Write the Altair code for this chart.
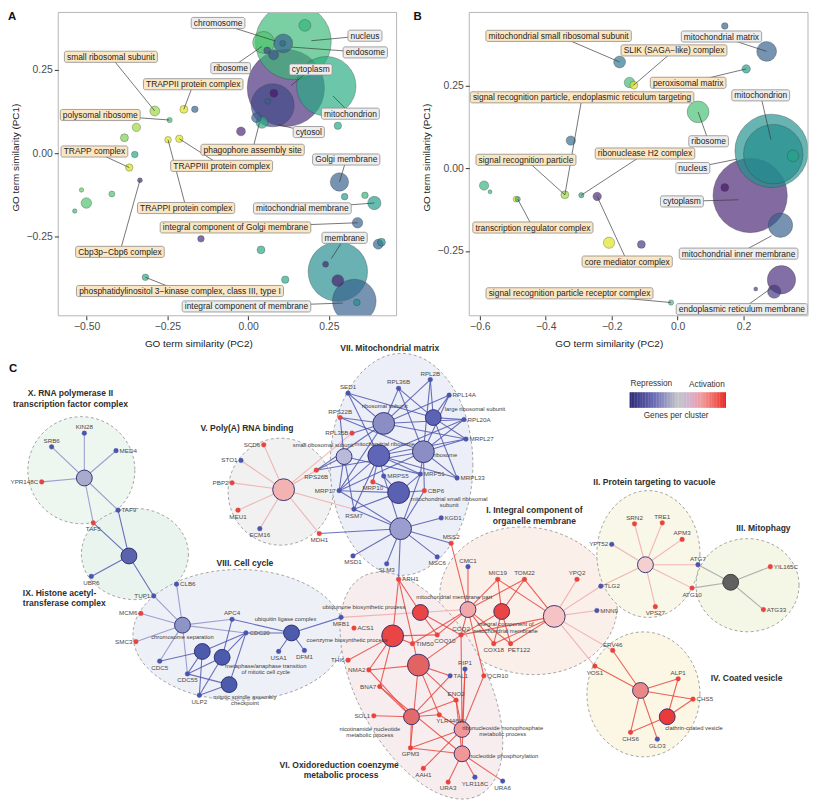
import math
import numpy as np
import pandas as pd
import altair as alt

FONT = "Liberation Sans"

# ---------------- Panel A : GO term bubbles ----------------
a_x = [0.140, 0.117, 0.242, 0.076, 0.080, 0.061, 0.109, 0.079, 0.059, 0.048,
       0.176, 0.107, 0.043, 0.026, -0.022, 0.278, -0.165, -0.199, -0.289, -0.243,
       -0.346, -0.383, -0.351, -0.368, -0.248, -0.213, -0.335, -0.516, -0.422, -0.501,
       -0.537, 0.283, 0.299, 0.362, 0.391, 0.339, -0.146, 0.040, 0.403, 0.413,
       0.278, 0.329, 0.240, 0.278, 0.337, 0.115, -0.318]
a_y = [0.333, 0.195, 0.200, 0.143, 0.179, 0.155, 0.328, 0.294, 0.307, 0.331,
       0.382, 0.328, 0.092, 0.106, 0.065, 0.082, 0.131, 0.131, 0.126, 0.099,
       0.077, 0.046, -0.004, -0.043, 0.040, 0.043, -0.081, -0.110, -0.122, -0.149,
       -0.173, -0.086, -0.130, -0.126, -0.149, -0.208, -0.256, -0.289, -0.272, -0.266,
       -0.354, -0.442, -0.332, -0.381, -0.446, -0.378, -0.371]
a_n = [1467, 1521, 900, 471, 16, 9, 90, 25, 12, 121,
       36, 9, 36, 25, 20, 14, 11, 16, 25, 7,
       18, 16, 11, 14, 11, 14, 6, 5, 9, 28,
       5, 86, 11, 11, 45, 28, 11, 16, 25, 16,
       900, 484, 9, 36, 11, 14, 11]
a_v = [0.68, 0.12, 0.62, 0.22, 0.05, 0.30, 0.30, 0.25, 0.20, 0.72,
       0.65, 0.35, 0.62, 0.30, 0.10, 0.60, 0.30, 0.95, 0.85, 0.70,
       0.85, 0.80, 0.60, 0.93, 0.95, 0.95, 0.12, 0.75, 0.72, 0.72,
       0.68, 0.30, 0.55, 0.65, 0.55, 0.30, 0.12, 0.60, 0.30, 0.45,
       0.48, 0.30, 0.10, 0.08, 0.50, 0.60, 0.62]

a_lab = ["chromosome", "nucleus", "endosome", "small ribosomal subunit", "ribosome",
         "cytoplasm", "TRAPPII protein complex", "polysomal ribosome", "mitochondrion", "cytosol",
         "TRAPP complex", "phagophore assembly site", "TRAPPIII protein complex", "Golgi membrane",
         "TRAPPI protein complex", "mitochondrial membrane", "integral component of Golgi membrane",
         "membrane", "Cbp3p\u2212Cbp6 complex",
         "phosphatidylinositol 3\u2212kinase complex, class III, type I",
         "integral component of membrane"]
a_lx = [-0.093, 0.362, 0.363, -0.425, -0.054, 0.194, -0.170, -0.458, 0.317, 0.188,
        -0.476, 0.014, -0.082, 0.304, -0.192, 0.168, -0.039, 0.299, -0.397, -0.211, -0.005]
a_ly = [0.389, 0.351, 0.301, 0.288, 0.254, 0.250, 0.206, 0.114, 0.118, 0.063,
        0.005, 0.010, -0.038, -0.019, -0.164, -0.165, -0.222, -0.253, -0.295, -0.412, -0.458]
a_tx = [0.085, 0.196, 0.135, -0.289, 0.043, 0.133, -0.199, -0.243, 0.263, 0.094,
        -0.368, 0.035, -0.213, 0.283, -0.248, 0.391, 0.339, 0.258, -0.335, -0.318, 0.293]
a_ty = [0.335, 0.336, 0.317, 0.126, 0.319, 0.202, 0.131, 0.099, 0.171, 0.085,
        -0.043, 0.090, 0.043, -0.086, 0.040, -0.149, -0.208, -0.315, -0.081, -0.371, -0.448]
a_kind = ["cc", "cc", "cc", "sig", "cc", "cc", "sig", "sig", "cc", "cc", "sig",
          "sig", "sig", "cc", "sig", "cc", "sig", "cc", "sig", "sig", "cc"]

# ---------------- Panel B : GO term bubbles ----------------
b_x = [0.143, 0.270, -0.176, 0.208, -0.146, -0.133, 0.062, 0.285, 0.290, 0.350,
       0.220, 0.143, 0.312, -0.324, -0.587, -0.569, -0.490, -0.485, -0.342, -0.292,
       -0.244, -0.208, -0.110, 0.315, 0.293, 0.237, -0.020]
b_y = [0.431, 0.354, 0.322, 0.301, 0.260, 0.252, 0.171, 0.053, 0.043, 0.038,
       -0.082, -0.058, -0.172, 0.084, -0.052, -0.071, -0.093, -0.093, -0.080, -0.081,
       -0.085, -0.225, -0.230, -0.337, -0.373, -0.365, -0.406]
b_n = [11, 100, 36, 18, 28, 16, 121, 1369, 900, 36,
       1406, 16, 151, 22, 22, 4, 9, 7, 16, 7,
       18, 32, 16, 204, 45, 4, 7]
b_v = [0.30, 0.30, 0.38, 0.55, 0.68, 0.95, 0.70, 0.50, 0.48, 0.58,
       0.10, 0.05, 0.30, 0.35, 0.65, 0.65, 0.95, 0.65, 0.85, 0.60,
       0.10, 0.95, 0.15, 0.12, 0.15, 0.15, 0.70]

b_lab = ["mitochondrial small ribosomal subunit", "mitochondrial matrix",
         "SLIK (SAGA\u2212like) complex", "peroxisomal matrix",
         "signal recognition particle, endoplasmic reticulum targeting",
         "mitochondrion", "ribosome", "ribonuclease H2 complex", "signal recognition particle",
         "nucleus", "cytoplasm", "transcription regulator complex", "mitochondrial inner membrane",
         "core mediator complex", "signal recognition particle receptor complex",
         "endoplasmic reticulum membrane"]
b_lx = [-0.361, 0.133, -0.011, 0.032, -0.290, 0.252, 0.094, -0.099, -0.460, 0.046,
        0.013, -0.439, 0.185, -0.153, -0.328, 0.195]
b_ly = [0.401, 0.399, 0.357, 0.259, 0.215, 0.221, 0.082, 0.045, 0.026, 0.001,
        -0.100, -0.179, -0.258, -0.282, -0.378, -0.426]
b_tx = [-0.176, 0.270, -0.133, 0.208, -0.342, 0.283, 0.062, -0.292, -0.342, 0.180,
        0.185, -0.485, 0.285, -0.244, -0.020, 0.285]
b_ty = [0.322, 0.354, 0.252, 0.301, -0.080, 0.087, 0.171, -0.081, -0.080, 0.028,
        -0.095, -0.093, -0.204, -0.085, -0.406, -0.362]
b_kind = ["sig", "cc", "sig", "sig", "sig", "cc", "cc", "sig", "sig", "cc",
          "cc", "sig", "cc", "sig", "sig", "cc"]

# ---------------- Panel C : network ----------------
leaf_name = ["KIN28", "SRB6", "MED4", "YPR148C", "TAF9", "TAF5", "UBP6", "TUP1",
             "CLB6", "MCM6", "SMC3", "APC4", "CDC20", "USA1", "DFM1", "MFB1", "CDC5", "CDC55", "ULP2",
             "SCD6", "STO1", "PBP2", "MEU1", "ECM16", "MDH1", "RPS26B", "RPL35B", "RPS22B",
             "SED1", "RPL36B", "RPL2B", "RPL14A", "RPL20A", "MRPL27", "MRPL33", "MRP51", "MRPS5",
             "MRP10", "MRP17", "CBP6", "RSM7", "KGD1", "MSS2", "MSC6", "MSD1", "SLM3", "ARH1",
             "CMC1", "MIC19", "TOM22", "YPQ2", "TLG2", "MNN9", "COX18", "PET122", "COQ2", "COQ10",
             "TIM50", "QCR10", "RIP1", "ERV46", "YOS1",
             "SRN2", "TRE1", "APM3", "YPT52", "ATG7", "ATG10", "VPS27", "YIL165C", "ATG33",
             "ALP1", "CHS5", "CHS6", "GLO3",
             "ACS1", "THI6", "NMA2", "BNA7", "SOL1", "GPM3", "AAH1", "URA3", "YLR118C", "URA6",
             "YLR446W", "ENO2", "TAL1"]
leaf_x = [85, 52, 117, 42, 119, 94, 92, 155,
          178, 142, 137, 234, 248, 281, 307, 344, 161, 189, 201,
          266, 243, 234, 240, 262, 322, 319, 355, 343,
          351, 402, 434, 453, 468, 470, 461, 424, 387,
          376, 342, 428, 357, 445, 455, 441, 356, 390, 402,
          472, 502, 529, 582, 606, 602, 498, 515, 465, 441,
          416, 488, 469, 618, 600,
          640, 668, 688, 617, 704, 698, 661, 777, 770,
          684, 699, 636, 663,
          357, 351, 372, 383, 377, 414, 427, 452, 479, 507,
          443, 460, 454]
leaf_y = [434, 448, 452, 484, 513, 526, 581, 601,
          589, 619, 648, 625, 639, 658, 657, 623, 668, 681, 703,
          446, 462, 485, 513, 532, 537, 472, 434, 418,
          393, 388, 379, 395, 420, 440, 480, 476, 478,
          484, 493, 493, 512, 521, 547, 561, 560, 568, 584,
          571, 584, 584, 584, 591, 616, 650, 650, 641, 641,
          650, 683, 676, 657, 673,
          527, 526, 543, 548, 569, 593, 612, 571, 615,
          686, 707, 741, 748,
          634, 667, 677, 694, 724, 757, 778, 792, 787, 791,
          723, 708, 683]
leaf_reg = ["d", "d", "d", "u", "d", "u", "d", "d",
            "d", "u", "u", "d", "d", "d", "d", "d", "d", "d", "d",
            "u", "d", "u", "u", "d", "u", "u", "u", "u",
            "d", "d", "d", "d", "d", "d", "d", "d", "d",
            "u", "d", "u", "d", "d", "u", "d", "d", "d", "u",
            "d", "u", "u", "u", "d", "d", "u", "u", "u", "u",
            "u", "u", "d", "u", "u",
            "u", "u", "u", "d", "d", "u", "u", "u", "u",
            "u", "u", "u", "d",
            "u", "u", "u", "u", "u", "u", "u", "u", "d", "d",
            "u", "u", "d"]
leaf_side = ["t", "t", "r", "l", "r", "b", "b", "l",
             "r", "l", "l", "t", "r", "b", "b", "b", "b", "b", "b",
             "l", "l", "l", "b", "b", "b", "b", "l", "t",
             "t", "t", "t", "r", "r", "r", "r", "r", "r",
             "b", "l", "r", "b", "r", "t", "b", "b", "b", "r",
             "t", "t", "t", "t", "r", "r", "b", "br", "t", "br",
             "r", "r", "t", "t", "b",
             "t", "t", "t", "l", "t", "b", "b", "r", "r",
             "t", "r", "b", "b",
             "r", "l", "l", "l", "l", "b", "b", "b", "b", "b",
             "br", "t", "r"]

hub_name = ["hX", "hIX", "hChrom", "hA8", "hMeta", "hSpin", "hUbiqL", "hV",
            "hRibSub", "hLarge", "hMitoRib", "hRibosome", "hSmall", "hMitoSmall", "hMatrix",
            "hI", "hMMP", "hICMM", "hII", "hIII", "hIV", "hCCV",
            "hUbq", "hCoenz", "hBig", "hNicot", "hRibo", "hNucl"]
hub_x = [85, 130, 184, 204, 224, 231, 294, 286,
         387, 437, 382, 427, 347, 402, 404,
         559, 472, 506, 651, 737, 646, 673,
         424, 396, 422, 415, 466, 466]
hub_y = [480, 560, 631, 658, 664, 692, 639, 492,
         424, 418, 457, 453, 458, 495, 532,
         622, 615, 617, 569, 587, 698, 725,
         618, 642, 672, 725, 738, 763]
hub_r = [8, 8, 8, 8, 8, 8, 8, 11,
         11, 8, 11, 11, 8, 11, 11,
         11, 8, 8, 8, 8, 8, 8,
         8, 11, 11, 8, 8, 8]
hub_fill = ["#a9aacd", "#5b63ad", "#8f94c6", "#4d5bad", "#4d5bad", "#4d5bad", "#4d5bad", "#f3b3b3",
            "#8a8ec4", "#5c62b4", "#5f66b8", "#8a8ec4", "#b9bad9", "#5a61b3", "#9a9dcd",
            "#f5c3c3", "#f2a8a8", "#ea4545", "#f3cfcf", "#606060", "#ea8888", "#ea3b3b",
            "#e94545", "#e94545", "#e36262", "#e36a6a", "#f29797", "#f29797"]

hub_lab = ["chromosome separation", "ubiquitin ligase complex", "metaphase/anaphase transition",
           "of mitotic cell cycle", "mitotic spindle assembly", "checkpoint",
           "small ribosomal subunit", "ribosomal subunit", "large ribosomal subunit",
           "mitochondrial ribosome", "ribosome", "mitochondrial small ribosomal", "subunit",
           "mitochondrial membrane part", "integral component of", "mitochondrial membrane",
           "clathrin-coated vesicle", "ubiquinone biosynthetic process",
           "coenzyme biosynthetic process", "nicotinamide nucleotide", "metabolic process",
           "ribonucleoside monophosphate", "metabolic process", "nucleotide phosphorylation"]
hub_lx = [184, 288, 268, 268, 247, 247, 326, 388, 479, 388, 449, 453, 453,
          458, 510, 510, 700, 367, 350, 373, 373, 507, 507, 508]
hub_ly = [643, 625, 673, 679, 705, 711, 446, 406, 409, 445, 456, 502, 508,
          602, 630, 637, 737, 612, 646, 738, 744, 737, 743, 765]

cl_name = ["X", "IX", "VIII", "V", "VII", "I", "II", "III", "IV", "VI"]
cl_cx = [82, 136, 241, 283, 405, 533, 654, 754, 649, 425]
cl_cy = [472, 558, 641, 494, 466, 606, 558, 590, 702, 693]
cl_rx = [54, 54, 107, 53, 72, 90, 52, 52, 57, 125]
cl_ry = [54, 46, 66, 54, 112, 74, 64, 47, 63, 65]
cl_ang = [0, 0, 0, 0, 0, 10, 0, 0, 0, 62]
cl_fill = ["#eef6f0", "#e9f4ee", "#eef0f8", "#f1f1f1", "#edeff8",
           "#fbefe9", "#f9f7e7", "#f4f6e6", "#fbf7e4", "#f7edef"]

title_txt = ["X. RNA polymerase II", "transcription factor complex", "VIII. Cell cycle",
             "V. Poly(A) RNA binding", "VII. Mitochondrial matrix", "I. Integral component of",
             "organelle membrane", "II. Protein targeting to vacuole", "III. Mitophagy",
             "IV. Coated vesicle", "VI. Oxidoreduction coenzyme", "metabolic process"]
title_x = [71, 71, 247, 249, 393, 539, 539, 660, 770, 753, 342, 344]
title_y = [393, 404, 567, 429, 347, 513, 524, 484, 531, 685, 775, 785]
title2_txt = ["IX. Histone acetyl-", "transferase complex"]
title2_x = [23, 23]
title2_y = [598, 608]


def star(h, leaves):
    return [(h, s) for s in leaves]


e_lav = star("hX", ["KIN28", "SRB6", "MED4", "YPR148C", "TAF9", "TAF5"]) + \
    star("hChrom", ["TUP1", "CLB6", "MCM6", "SMC3", "CDC5", "CDC55", "APC4", "CDC20"])
e_blue = star("hIX", ["TAF9", "TAF5", "UBP6", "TUP1"]) + \
    star("hA8", ["CDC5", "CDC20", "CDC55", "ULP2"]) + \
    star("hMeta", ["APC4", "CDC20", "CDC55", "ULP2"]) + \
    star("hSpin", ["CDC20", "CDC55", "ULP2"]) + \
    star("hUbiqL", ["APC4", "CDC20", "USA1", "DFM1", "MFB1"]) + \
    star("hRibSub", ["SED1", "RPL36B", "RPL2B", "RPL14A", "RPL20A", "MRPL27", "RPS22B",
                     "RPL35B", "RPS26B", "MRP17"]) + \
    star("hLarge", ["RPL36B", "RPL2B", "RPL14A", "RPL20A", "MRPL27", "MRPL33", "SED1"]) + \
    star("hRibosome", ["RPL36B", "RPL2B", "RPL14A", "RPL20A", "MRPL27", "MRPL33", "RPS22B",
                       "RPS26B", "MRP51", "MRP17", "CBP6"]) + \
    star("hMitoRib", ["MRPL27", "MRPL33", "MRP51", "MRPS5", "MRP10", "MRP17", "RSM7",
                      "RPL20A", "SED1"]) + \
    star("hSmall", ["RPS22B", "RPS26B", "MRP17", "RSM7", "MRP51"]) + \
    star("hMitoSmall", ["MRP51", "MRPS5", "MRP10", "MRP17", "RSM7", "CBP6"]) + \
    star("hMatrix", ["RSM7", "KGD1", "MSS2", "MSC6", "MSD1", "SLM3", "ARH1", "MRP17",
                     "MRPS5", "MDH1", "CBP6", "MRP51"])
e_red = star("hMMP", ["CMC1", "MIC19", "TOM22", "COQ2", "COX18", "PET122", "MSS2", "TIM50",
                      "QCR10", "COQ10"]) + \
    star("hICMM", ["MIC19", "TOM22", "COX18", "PET122", "COQ2"]) + \
    star("hI", ["MIC19", "TOM22", "COX18", "PET122", "COQ2"]) + \
    star("hUbq", ["ARH1", "COQ10", "COQ2"]) + \
    star("hCoenz", ["ARH1", "THI6", "NMA2", "BNA7", "COQ10", "TIM50"]) + \
    star("hBig", ["ARH1", "NMA2", "TAL1", "ENO2", "YLR446W", "COQ2", "GPM3"]) + \
    star("hNicot", ["NMA2", "BNA7", "SOL1", "GPM3", "ENO2", "YLR446W", "TAL1"]) + \
    star("hRibo", ["RIP1", "ENO2", "AAH1", "GPM3", "YLR446W", "COQ2", "QCR10"]) + \
    star("hNucl", ["URA3", "YLR118C", "URA6", "GPM3", "ENO2", "BNA7", "RIP1"]) + \
    star("hIV", ["ERV46", "YOS1", "ALP1", "CHS5", "CHS6", "GLO3"]) + \
    star("hCCV", ["ALP1", "CHS5", "CHS6"])
e_pink = star("hV", ["SCD6", "STO1", "PBP2", "MEU1", "ECM16", "MDH1", "RPS26B", "RPL35B", "RSM7"]) + \
    star("hII", ["SRN2", "TRE1", "APM3", "YPT52", "ATG7", "ATG10", "VPS27", "TLG2"]) + \
    star("hI", ["TLG2", "MNN9", "YPQ2", "YOS1", "ERV46"]) + [("MFB1", "hMMP")]
e_grey = star("hIII", ["ATG7", "ATG10", "YIL165C", "ATG33"])

legend_stops = [0.0, 0.25, 0.5, 0.75, 1.0]
legend_cols = ["#2e2e78", "#6a6cb6", "#c4c4c8", "#ec9c9c", "#ea2424"]

# ---------------- page geometry (one view, pixels) ----------------
VW, VH = 807, 796
PANEL_H = 306
A_RANGE_X = [50.7, 392.0]
B_RANGE_X = [465.3, 807.0]
C_DOM_X, C_RANGE_X = [8, 815], [0, 807]
C_DOM_Y, C_RANGE_Y = [340, 812], [332, 796]

# ---------------- helpers ----------------
HW = {}
for chars, w in [(" ,./:;!'", 278), ("()-r", 333), ("0123456789", 556), ("ft", 278),
                 ("ijl", 222), ("cksvxyz", 500), ("m", 833), ("w", 722),
                 ("abdeghnopqu", 556), ("I", 278), ("J", 500), ("L", 556), ("FTZ", 611),
                 ("ABEKPSVXY", 667), ("CDHNRU", 722), ("GOQ", 778), ("M", 833), ("W", 944),
                 ("\u2212", 584)]:
    for ch in chars:
        HW[ch] = w


def text_w(s, fs):
    return sum(HW.get(ch, 556) for ch in s) * fs / 1000.0


LFS = 8.5
BOX_FILL = {"cc": "#ededed", "sig": "#fbe6c3"}


def bubble_panel(px, py, pn, pv, lab, lx, ly, tx, ty, kind, xdom, ydom, xrange,
                 xvals, yvals, xfmt, title_x, letter, letter_x):
    W = xrange[1] - xrange[0]
    ppx = W / (xdom[1] - xdom[0])
    ppy = PANEL_H / (ydom[1] - ydom[0])
    pts = pd.DataFrame({"x": px, "y": py, "n": pn, "v": pv}).sort_values("n", ascending=False)
    lb = pd.DataFrame({"label": lab, "lx": lx, "ly": ly, "tx": tx, "ty": ty, "kind": kind})
    bw = np.array([text_w(s, LFS) + 5.0 for s in lab])
    lb["x1"] = lb["lx"] - bw / 2 / ppx
    lb["x2"] = lb["lx"] + bw / 2 / ppx
    lb["y1"] = lb["ly"] - 5.6 / ppy
    lb["y2"] = lb["ly"] + 5.6 / ppy
    lb["fill"] = lb["kind"].map(BOX_FILL)
    frame = pd.DataFrame({"x1": [xdom[0]], "x2": [xdom[1]], "y1": [ydom[0]], "y2": [ydom[1]]})
    # white band just under the panel: clips bubbles at the panel's lower edge
    under = pd.DataFrame({"x1": [xdom[0]], "x2": [xdom[1]],
                          "y1": [ydom[0] - 30 / ppy], "y2": [ydom[0]]})
    xs = alt.Scale(domain=xdom, range=xrange, nice=False, zero=False)
    ys = alt.Scale(domain=ydom, range=[PANEL_H, 0], nice=False, zero=False)
    xax = alt.Axis(values=xvals, format=xfmt, title="GO term similarity (PC2)", orient="bottom",
                   offset=PANEL_H - VH, titleX=title_x, zindex=2)
    yax = alt.Axis(values=yvals, format=".2f", title="GO term similarity (PC1)", orient="left",
                   offset=-xrange[0], titleY=146, zindex=2)

    def X(f):
        return alt.X(f, type="quantitative", scale=xs, axis=xax)

    def Y(f):
        return alt.Y(f, type="quantitative", scale=ys, axis=yax)

    bubbles = alt.Chart(pts).mark_circle(opacity=1, fillOpacity=0.68, stroke="#3a3a3a",
                                         strokeWidth=0.6, strokeOpacity=0.55, clip=True).encode(
        x=X("x"), y=Y("y"),
        size=alt.Size("n:Q", scale=alt.Scale(domain=[0, 100], range=[0, 400]), legend=None),
        color=alt.Color("v:Q", scale=alt.Scale(scheme="viridis", domain=[0, 1]), legend=None))
    mask = alt.Chart(under).mark_rect(fill="white").encode(
        x=X("x1"), x2="x2:Q", y=Y("y1"), y2="y2:Q")
    rules = alt.Chart(lb).mark_rule(color="#3c3c3c", strokeWidth=0.7).encode(
        x=X("lx"), y=Y("ly"), x2="tx:Q", y2="ty:Q")
    boxes = alt.Chart(lb).mark_rect(stroke="#8c8c8c", strokeWidth=0.8, cornerRadius=2).encode(
        x=X("x1"), x2="x2:Q", y=Y("y1"), y2="y2:Q", fill=alt.Fill("fill:N", scale=None))
    texts = alt.Chart(lb).mark_text(font=FONT, fontSize=LFS, color="#1e1e1e").encode(
        x=X("lx"), y=Y("ly"), text="label:N")
    box = alt.Chart(frame).mark_rect(fillOpacity=0, stroke="#b5b5b5", strokeWidth=1).encode(
        x=X("x1"), x2="x2:Q", y=Y("y1"), y2="y2:Q")
    let = alt.Chart(pd.DataFrame({"t": [letter]})).mark_text(
        font=FONT, fontSize=11.5, fontWeight="bold", align="left", baseline="middle",
        color="#111111").encode(x=alt.value(letter_x), y=alt.value(5), text="t:N")
    return alt.layer(bubbles, mask, rules, boxes, texts, box, let)


chartA = bubble_panel(a_x, a_y, a_n, a_v, a_lab, a_lx, a_ly, a_tx, a_ty, a_kind,
                      [-0.588, 0.46], [-0.486, 0.4205], A_RANGE_X, [-0.5, -0.25, 0, 0.25],
                      [-0.25, 0, 0.25], ".2f", 192, "A", 0)
chartB = bubble_panel(b_x, b_y, b_n, b_v, b_lab, b_lx, b_ly, b_tx, b_ty, b_kind,
                      [-0.632, 0.3955], [-0.4461, 0.4719], B_RANGE_X, [-0.6, -0.4, -0.2, 0, 0.2],
                      [-0.25, 0, 0.25], ".1f", 606, "B", 409)

# ---------------- Panel C build ----------------
CX = alt.Scale(domain=C_DOM_X, range=C_RANGE_X, nice=False, zero=False)
CY = alt.Scale(domain=C_DOM_Y, range=C_RANGE_Y, nice=False, zero=False)


def cX(f):
    return alt.X(f, type="quantitative", scale=CX, axis=None)


def cY(f):
    return alt.Y(f, type="quantitative", scale=CY, axis=None)


def ell_path(rx, ry, ang, n=72):
    a = max(rx, ry)
    c, s = math.cos(math.radians(ang)), math.sin(math.radians(ang))
    pts = []
    for k in range(n):
        t = 2 * math.pi * k / n
        ex, ey = rx * math.cos(t) / a, ry * math.sin(t) / a
        pts.append(f"{ex * c - ey * s:.4f} {ex * s + ey * c:.4f}")
    return "M" + " L".join(pts) + " Z"


ell_rows = []
for nm, cx, cy, rx, ry, ang, fl in zip(cl_name, cl_cx, cl_cy, cl_rx, cl_ry, cl_ang, cl_fill):
    a = max(rx, ry)
    ell_rows.append({"cx": cx, "cy": cy, "path": ell_path(rx, ry, ang), "sz": 4 * a * a,
                     "fill": fl})
ell_df = pd.DataFrame(ell_rows)

node_rows = []
pos = {}
for nm, x, y, rg in zip(leaf_name, leaf_x, leaf_y, leaf_reg):
    col = "#4a55ae" if rg == "d" else "#e8433d"
    node_rows.append({"x": x, "y": y, "sz": 4 * 2.4 ** 2, "fill": col, "stroke": col, "sw": 0.3})
    pos[nm] = (x, y)
for nm, x, y, r, fl in zip(hub_name, hub_x, hub_y, hub_r, hub_fill):
    st = "#333333" if nm == "hIII" else "#28296a"
    node_rows.append({"x": x, "y": y, "sz": 4 * r * r, "fill": fl, "stroke": st, "sw": 0.9})
    pos[nm] = (x, y)
node_df = pd.DataFrame(node_rows)

EDGE_COL = {"lav": "#8d91c9", "blue": "#5058ae", "red": "#e8463f", "pink": "#f0a9a9",
            "grey": "#a3a3a3"}
edge_rows = []
for grp, lst in [("pink", e_pink), ("grey", e_grey), ("lav", e_lav), ("blue", e_blue),
                 ("red", e_red)]:
    for s, t in lst:
        (x1, y1), (x2, y2) = pos[s], pos[t]
        edge_rows.append({"x1": x1, "y1": y1, "x2": x2, "y2": y2, "col": EDGE_COL[grp]})
edge_df = pd.DataFrame(edge_rows)

leaf_df = pd.DataFrame({"name": leaf_name, "x": leaf_x, "y": leaf_y, "side": leaf_side})

ell = alt.Chart(ell_df).mark_point(filled=True, opacity=1, stroke="#9b9b9b", strokeWidth=0.9,
                                   strokeDash=[3, 2.5]).encode(
    x=cX("cx"), y=cY("cy"), shape=alt.Shape("path:N", scale=None),
    size=alt.Size("sz:Q", scale=None), fill=alt.Fill("fill:N", scale=None))
edges = alt.Chart(edge_df).mark_rule(strokeWidth=1.1, opacity=0.85).encode(
    x=cX("x1"), y=cY("y1"), x2="x2:Q", y2="y2:Q", stroke=alt.Stroke("col:N", scale=None))
nodes = alt.Chart(node_df).mark_point(filled=True, opacity=1, shape="circle").encode(
    x=cX("x"), y=cY("y"), size=alt.Size("sz:Q", scale=None),
    fill=alt.Fill("fill:N", scale=None), stroke=alt.Stroke("stroke:N", scale=None),
    strokeWidth=alt.StrokeWidth("sw:Q", scale=None))

LEAF_FS = 6.3
side_style = {"r": dict(align="left", dx=3.5, dy=0), "l": dict(align="right", dx=-3.5, dy=0),
              "t": dict(align="center", dx=0, dy=-6), "b": dict(align="center", dx=0, dy=6.5),
              "br": dict(align="left", dx=-3, dy=6.5)}
leaf_layers = []
for sd, kw in side_style.items():
    leaf_layers.append(alt.Chart(leaf_df).transform_filter(alt.datum.side == sd).mark_text(
        font=FONT, fontSize=LEAF_FS, color="#4a4a4a", baseline="middle", **kw).encode(
        x=cX("x"), y=cY("y"), text="name:N"))

hub_lab_df = pd.DataFrame({"t": hub_lab, "x": hub_lx, "y": hub_ly})
hub_text = alt.Chart(hub_lab_df).mark_text(font=FONT, fontSize=5.9, color="#3c3c3c",
                                           baseline="middle").encode(
    x=cX("x"), y=cY("y"), text="t:N")

tdf = pd.DataFrame({"t": title_txt, "x": title_x, "y": title_y})
titles = alt.Chart(tdf).mark_text(font=FONT, fontSize=8.6, fontWeight="bold", color="#2e2e2e",
                                  baseline="middle").encode(x=cX("x"), y=cY("y"), text="t:N")
tdf2 = pd.DataFrame({"t": title2_txt, "x": title2_x, "y": title2_y})
titles2 = alt.Chart(tdf2).mark_text(font=FONT, fontSize=8.6, fontWeight="bold", color="#2e2e2e",
                                    baseline="middle", align="left").encode(
    x=cX("x"), y=cY("y"), text="t:N")

gv = np.linspace(0, 1, 61)
step = 97.0 / 61
grad_df = pd.DataFrame({"g": gv, "x1": 635 + gv * (97 - step), "y1": 392, "y2": 408})
grad_df["x2"] = grad_df["x1"] + step + 0.3
grad = alt.Chart(grad_df).mark_rect().encode(
    x=cX("x1"), x2="x2:Q", y=cY("y1"), y2="y2:Q",
    color=alt.Color("g:Q", scale=alt.Scale(domain=legend_stops, range=legend_cols), legend=None))
leg_df = pd.DataFrame({"t": ["Repression", "Activation", "Genes per cluster"],
                       "x": [657, 713, 682], "y": [384, 385, 416]})
leg_text = alt.Chart(leg_df).mark_text(font=FONT, fontSize=8.3, color="#333333",
                                       baseline="middle").encode(
    x=cX("x"), y=cY("y"), text="t:N")
letC = alt.Chart(pd.DataFrame({"t": ["C"], "x": [9], "y": [368]})).mark_text(
    font=FONT, fontSize=11.5, fontWeight="bold", align="left", baseline="middle",
    color="#111111").encode(x=cX("x"), y=cY("y"), text="t:N")

chartC = alt.layer(ell, edges, nodes, *leaf_layers, hub_text, titles, titles2, grad, leg_text,
                   letC)

chart = alt.layer(chartA, chartB, chartC).resolve_scale(
    x="independent", y="independent", color="independent", size="independent",
    fill="independent", stroke="independent"
).resolve_axis(x="independent", y="independent").properties(
    width=VW, height=VH, padding=0
).configure_axis(
    labelFont=FONT, titleFont=FONT, labelFontSize=10.5, titleFontSize=10,
    labelColor="#4d4d4d", titleColor="#1a1a1a", tickColor="#333333", tickSize=4,
    labelPadding=2, titlePadding=6, grid=False, domain=False, titleFontWeight="normal"
).configure_view(stroke=None)

chart.save("out.html", embed_options={"renderer": "svg", "actions": False})
